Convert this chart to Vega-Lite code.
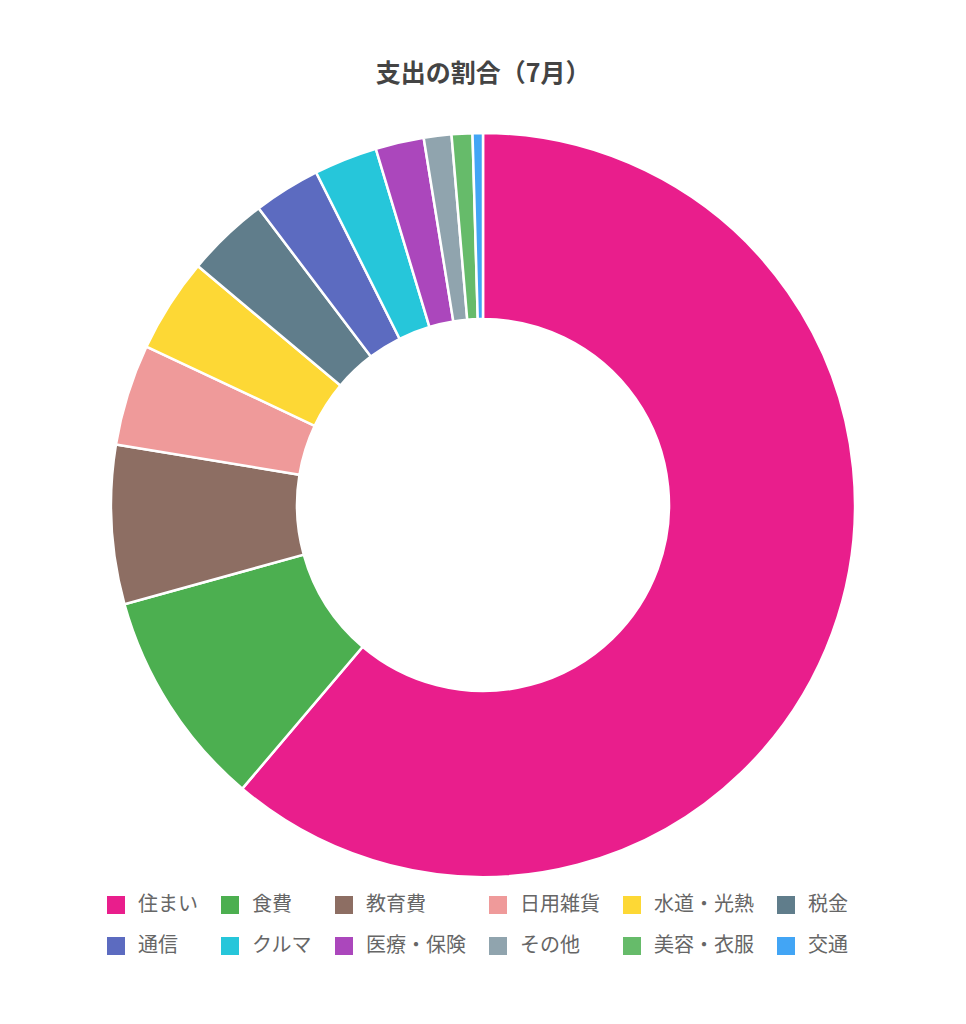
{
  "$schema": "https://vega.github.io/schema/vega-lite/v6.json",
  "width": 966,
  "height": 760,
  "padding": {"top": 62, "left": 0, "right": 0, "bottom": 0},
  "background": "white",
  "config": {
    "font": "Noto Sans CJK JP",
    "view": {"stroke": null}
  },
  "title": {
    "text": "支出の割合（7月）",
    "fontSize": 25,
    "fontWeight": "bold",
    "color": "#444444",
    "anchor": "middle",
    "offset": 38
  },
  "data": {
    "values": [
      {"category": "住まい", "share": 61.2},
      {"category": "食費", "share": 9.5},
      {"category": "教育費", "share": 6.9},
      {"category": "日用雑貨", "share": 4.4},
      {"category": "水道・光熱", "share": 4.1},
      {"category": "税金", "share": 3.6},
      {"category": "通信", "share": 2.9},
      {"category": "クルマ", "share": 2.75},
      {"category": "医療・保険", "share": 2.1},
      {"category": "その他", "share": 1.2},
      {"category": "美容・衣服", "share": 0.9},
      {"category": "交通", "share": 0.45}
    ]
  },
  "transform": [
    {"window": [{"op": "row_number", "as": "rank"}]}
  ],
  "mark": {
    "type": "arc",
    "outerRadius": 372,
    "innerRadius": 186,
    "stroke": "white",
    "strokeWidth": 2.5
  },
  "encoding": {
    "theta": {"field": "share", "type": "quantitative", "stack": true},
    "order": {"field": "rank", "type": "quantitative", "sort": "ascending"},
    "color": {
      "field": "category",
      "type": "nominal",
      "sort": ["住まい", "食費", "教育費", "日用雑貨", "水道・光熱", "税金", "通信", "クルマ", "医療・保険", "その他", "美容・衣服", "交通"],
      "scale": {
        "domain": ["住まい", "食費", "教育費", "日用雑貨", "水道・光熱", "税金", "通信", "クルマ", "医療・保険", "その他", "美容・衣服", "交通"],
        "range": ["#E91E8C", "#4CAF50", "#8D6E63", "#EF9A9A", "#FDD835", "#607D8B", "#5C6BC0", "#26C6DA", "#AB47BC", "#90A4AE", "#66BB6A", "#42A5F5"]
      },
      "legend": {
        "title": null,
        "orient": "none",
        "legendX": 106,
        "legendY": 770,
        "direction": "horizontal",
        "columns": 6,
        "symbolType": "square",
        "symbolSize": 324,
        "symbolStrokeWidth": 0,
        "labelFontSize": 20,
        "labelColor": "#666666",
        "labelOffset": 12,
        "labelLimit": 300,
        "columnPadding": 22,
        "rowPadding": 21
      }
    },
    "tooltip": [
      {"field": "category", "type": "nominal"},
      {"field": "share", "type": "quantitative"}
    ]
  }
}
